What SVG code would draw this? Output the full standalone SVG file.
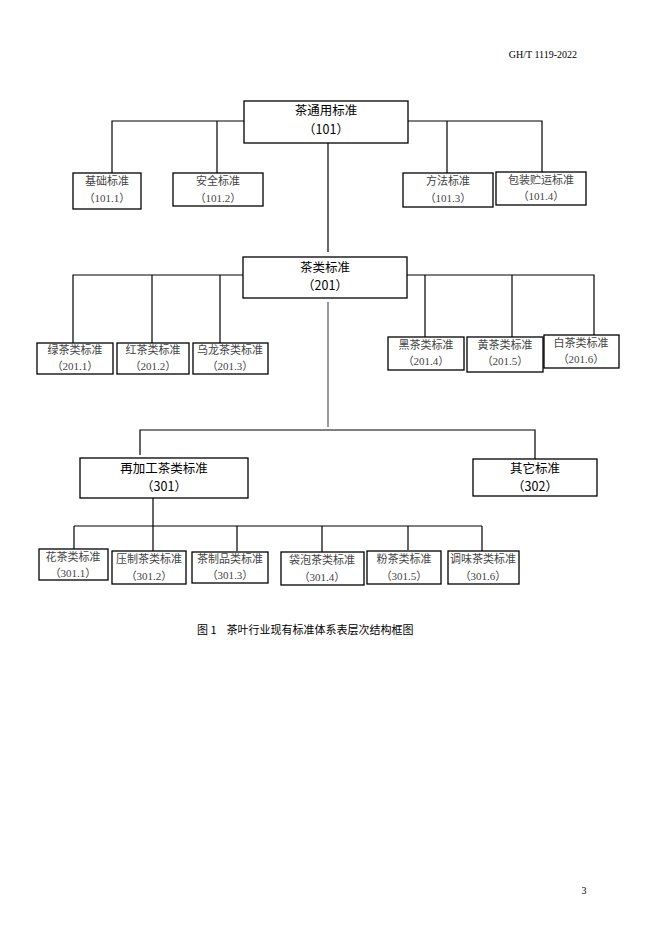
<svg xmlns="http://www.w3.org/2000/svg" width="662" height="936" viewBox="0 0 662 936">
<style>
.bg{fill:#fff}
.box{fill:#fff;stroke:#000;stroke-width:1.3}
.ln{stroke:#000;stroke-width:1.2;fill:none}
.gl{stroke:#9a9a9a;stroke-width:2;fill:none}
.mt{font-family:"Noto Sans CJK SC","Liberation Sans",sans-serif;font-size:12.5px;fill:#000;text-anchor:middle}
.st{font-family:"Liberation Serif","Noto Sans CJK SC",serif;font-size:11px;fill:#444;text-anchor:middle}
.hd{font-family:"Liberation Serif",serif;font-size:10px;fill:#000}
.cap{font-family:"Noto Sans CJK SC","Liberation Sans",sans-serif;font-size:11px;fill:#000}
</style>
<rect class="bg" x="0" y="0" width="662" height="936"/>
<text class="hd" x="577" y="58" text-anchor="end">GH/T 1119-2022</text>

<g id="connectors">
  <path class="ln" d="M244 121H112V173M217 121V173"/>
  <path class="ln" d="M408 121H542V172M447 121V173"/>
  <path class="ln" d="M328 143V252"/>
  <path class="ln" d="M243 275H73V343M152 275V343M220 275V343"/>
  <path class="ln" d="M407 275H594V335M425 275V337M512 275V337"/>
  <path class="gl" d="M328 302V427"/>
  <path class="ln" d="M140 455V430H437"/>
  <path class="ln" d="M437 430H535V459" stroke="#444"/>
  <path class="ln" d="M153 498V551M74 526H482M74 526V549M237 526V551M322 526V552M408 526V550M482 526V551"/>
</g>

<g id="n101"><rect class="box" x="244" y="101" width="164" height="42"/><text class="mt" x="326" y="115">茶通用标准</text><text class="mt" x="326" y="134">（101）</text></g>
<g id="n1011"><rect class="box" x="73" y="173" width="68" height="36"/><text class="st" x="107" y="185">基础标准</text><text class="st" x="107" y="202">（101.1）</text></g>
<g id="n1012"><rect class="box" x="173" y="173" width="90" height="33"/><text class="st" x="218" y="185">安全标准</text><text class="st" x="218" y="202">（101.2）</text></g>
<g id="n1013"><rect class="box" x="403" y="173" width="90" height="34"/><text class="st" x="448" y="185">方法标准</text><text class="st" x="448" y="202">（101.3）</text></g>
<g id="n1014"><rect class="box" x="496" y="172" width="90" height="33"/><text class="st" x="541" y="184">包装贮运标准</text><text class="st" x="541" y="200">（101.4）</text></g>

<g id="n201"><rect class="box" x="243" y="257" width="164" height="41"/><text class="mt" x="325" y="272">茶类标准</text><text class="mt" x="325" y="290">（201）</text></g>
<g id="n2011"><rect class="box" x="37" y="343" width="76" height="31"/><text class="st" x="75" y="354">绿茶类标准</text><text class="st" x="75" y="370">（201.1）</text></g>
<g id="n2012"><rect class="box" x="117" y="343" width="72" height="31"/><text class="st" x="153" y="354">红茶类标准</text><text class="st" x="153" y="370">（201.2）</text></g>
<g id="n2013"><rect class="box" x="193" y="343" width="75" height="31"/><text class="st" x="230" y="354">乌龙茶类标准</text><text class="st" x="230" y="370">（201.3）</text></g>
<g id="n2014"><rect class="box" x="388" y="337" width="76" height="33"/><text class="st" x="426" y="349">黑茶类标准</text><text class="st" x="426" y="365">（201.4）</text></g>
<g id="n2015"><rect class="box" x="467" y="337" width="76" height="35"/><text class="st" x="505" y="349">黄茶类标准</text><text class="st" x="505" y="365">（201.5）</text></g>
<g id="n2016"><rect class="box" x="544" y="335" width="75" height="33"/><text class="st" x="581" y="347">白茶类标准</text><text class="st" x="581" y="363">（201.6）</text></g>

<g id="n301"><rect class="box" x="80" y="458" width="168" height="40"/><text class="mt" x="164" y="473">再加工茶类标准</text><text class="mt" x="164" y="491">（301）</text></g>
<g id="n302"><rect class="box" x="473" y="459" width="124" height="37"/><text class="mt" x="535" y="473">其它标准</text><text class="mt" x="535" y="491">（302）</text></g>

<g id="n3011"><rect class="box" x="39" y="549" width="69" height="31"/><text class="st" x="73" y="561">花茶类标准</text><text class="st" x="73" y="577">（301.1）</text></g>
<g id="n3012"><rect class="box" x="112" y="551" width="74" height="33"/><text class="st" x="149" y="563">压制茶类标准</text><text class="st" x="149" y="580">（301.2）</text></g>
<g id="n3013"><rect class="box" x="192" y="552" width="76" height="31"/><text class="st" x="230" y="563">茶制品类标准</text><text class="st" x="230" y="579">（301.3）</text></g>
<g id="n3014"><rect class="box" x="281" y="552" width="83" height="33"/><text class="st" x="322" y="564">袋泡茶类标准</text><text class="st" x="322" y="581">（301.4）</text></g>
<g id="n3015"><rect class="box" x="367" y="551" width="74" height="33"/><text class="st" x="404" y="563">粉茶类标准</text><text class="st" x="404" y="580">（301.5）</text></g>
<g id="n3016"><rect class="box" x="448" y="551" width="71" height="33"/><text class="st" x="483" y="563">调味茶类标准</text><text class="st" x="483" y="580">（301.6）</text></g>

<text class="cap" x="197" y="634" xml:space="preserve">图 1    茶叶行业现有标准体系表层次结构框图</text>
<text class="hd" x="584" y="894" text-anchor="middle">3</text>
</svg>
